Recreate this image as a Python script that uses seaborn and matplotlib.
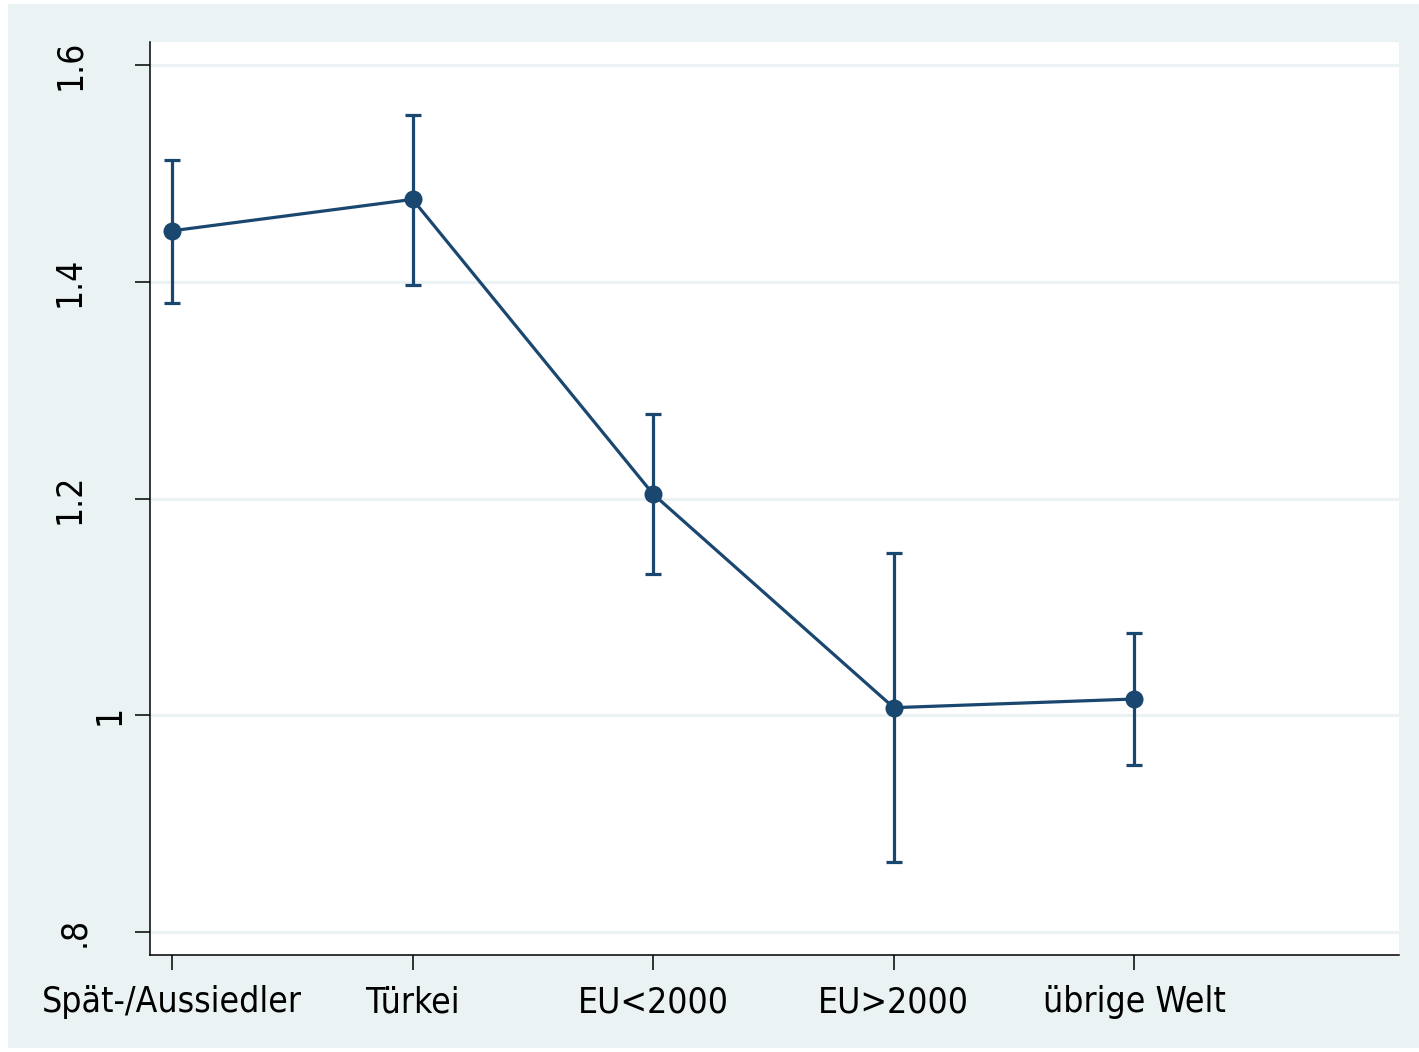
import matplotlib
matplotlib.use("Agg")
import matplotlib.pyplot as plt
import matplotlib.transforms as mtransforms
from matplotlib.patches import Rectangle
import seaborn as sns
import pandas as pd

# ---- data ----
categories = ["Spät-/Aussiedler", "Türkei", "EU<2000", "EU>2000", "übrige Welt"]
estimates = [1.447, 1.476, 1.204, 1.007, 1.015]
ci_low = [1.380, 1.397, 1.130, 0.865, 0.954]
ci_high = [1.512, 1.554, 1.278, 1.150, 1.076]
y_ticks = [0.8, 1.0, 1.2, 1.4, 1.6]
y_tick_labels = [".8", "1", "1.2", "1.4", "1.6"]

BG = "#EAF2F3"
NAVY = "#1A476F"

df = pd.DataFrame({"category": categories, "estimate": estimates,
                   "lo": ci_low, "hi": ci_high})

plt.rcParams["font.family"] = ["DejaVu Sans"]
plt.rcParams["font.stretch"] = "condensed"

W, H = 1419, 1052
fig = plt.figure(figsize=(W / 100, H / 100), dpi=100, facecolor="white")
fig.patches.append(Rectangle((8 / W, 4 / H), (W - 8) / W, (1048 - 4) / H,
                             transform=fig.transFigure, facecolor=BG,
                             edgecolor="none", zorder=-10))
ax = fig.add_axes([150 / W, 1 - 955 / H, (1399 - 150) / W, (955 - 42) / H])
ax.set_zorder(1)
ax.set_facecolor("white")

# grid
for yt in y_ticks:
    ax.axhline(yt, color=BG, linewidth=2.2, zorder=1)

sns.lineplot(data=df, x="category", y="estimate", ax=ax, color=NAVY,
             linewidth=2.3, marker="o", markersize=13, markeredgewidth=0,
             sort=False, zorder=3)
ax.errorbar(df["category"], df["estimate"],
            yerr=[df["estimate"] - df["lo"], df["hi"] - df["estimate"]],
            fmt="none", ecolor=NAVY, elinewidth=2.3, capsize=5.5,
            capthick=2.3, zorder=2)

ax.set_xlim(-0.0915, 5.10)
ax.set_ylim(0.7788, 1.6212)
ax.set_xlabel("")
ax.set_ylabel("")

for s in ["top", "right"]:
    ax.spines[s].set_visible(False)
for s in ["left", "bottom"]:
    ax.spines[s].set_color("black")
    ax.spines[s].set_linewidth(1.1)

ax.set_yticks(y_ticks)
ax.set_yticklabels([])
ax.tick_params(axis="x", length=10.8, width=1.1, color="black", pad=11,
               labelsize=25.5, labelcolor="black")
ax.tick_params(axis="y", length=10.8, width=1.1, color="black",
               labelleft=False)

# rotated y tick labels (Stata-like placement)
baseline_offsets_px = [66, 30, 70, 70, 70]
for yt, lab, dx in zip(y_ticks, y_tick_labels, baseline_offsets_px):
    tr = ax.get_yaxis_transform() + mtransforms.ScaledTranslation(
        -dx / 100, 0, fig.dpi_scale_trans)
    ax.text(0, yt, lab, transform=tr, rotation=90, rotation_mode="anchor",
            ha="center", va="baseline", fontsize=25.5, color="black")

fig.savefig("out.png", dpi=100, facecolor=fig.get_facecolor())
